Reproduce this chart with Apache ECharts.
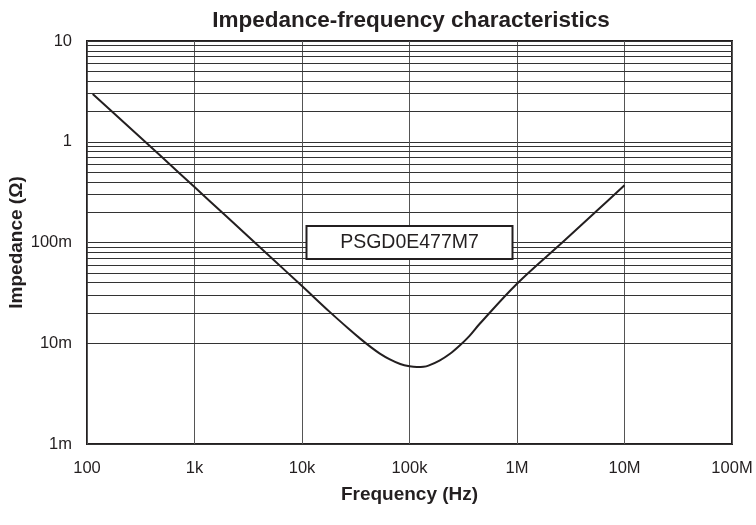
<!DOCTYPE html>
<html>
<head>
<meta charset="utf-8">
<script src="https://cdn.jsdelivr.net/npm/echarts@6/dist/echarts.min.js"></script>
<style>html,body{margin:0;padding:0;background:#fff;}#c{width:756px;height:525px;}</style>
</head>
<body>
<div id="c"></div>
<script>
// Data
var freqHz = [113, 200, 500, 1000, 2000, 5000, 10000, 18000, 27000, 35000, 44000, 53000, 65000, 82000, 100000, 117000, 135000, 150000, 190000, 240000, 295000, 360000, 450000, 1000000, 2700000, 5500000, 10000000];
var impedanceOhm = [2.98, 1.71, 0.70, 0.355, 0.180, 0.073, 0.037, 0.0206, 0.0140, 0.01105, 0.0091, 0.0079, 0.00696, 0.00622, 0.00590, 0.00580, 0.00584, 0.00600, 0.00673, 0.00791, 0.00954, 0.01175, 0.01560, 0.0390, 0.1023, 0.2055, 0.3695];
var xTickValues = [100, 1000, 10000, 100000, 1000000, 10000000, 100000000];
var xTickLabels = ['100', '1k', '10k', '100k', '1M', '10M', '100M'];
var yTickValues = [0.001, 0.01, 0.1, 1, 10];
var yTickLabels = ['1m', '10m', '100m', '1', '10'];
var yMinorGrid = [0.002,0.003,0.004,0.005,0.006,0.007,0.008,0.009,
                  0.02,0.03,0.04,0.05,0.06,0.07,0.08,0.09,
                  0.2,0.3,0.4,0.5,0.6,0.7,0.8,0.9,
                  2,3,4,5,6,7,8,9];
var partName = 'PSGD0E477M7';
var labelAt = [100000, 0.1];

function lookup(vals, labels, v) {
  for (var i = 0; i < vals.length; i++) {
    if (Math.abs(Math.log10(v) - Math.log10(vals[i])) < 1e-6) return labels[i];
  }
  return '';
}

var chart = echarts.init(document.getElementById('c'));
var font = 'Liberation Sans, Arial, Helvetica, sans-serif';
chart.setOption({
  animation: false,
  backgroundColor: '#fff',
  title: {
    text: 'Impedance-frequency characteristics',
    left: 406, top: 4, textAlign: 'center',
    textStyle: { fontFamily: font, fontSize: 22.5, fontWeight: 'bold', color: '#231f20' }
  },
  grid: { left: 87, right: 24, top: 41, bottom: 81, show: true, borderColor: '#231f20', borderWidth: 2,
          backgroundColor: 'transparent', containLabel: false, outerBoundsMode: 'none' },
  xAxis: {
    type: 'log', logBase: 10, min: 100, max: 100000000,
    name: 'Frequency (Hz)', nameLocation: 'middle', nameGap: 41,
    nameTextStyle: { fontFamily: font, fontSize: 19, fontWeight: 'bold', color: '#231f20' },
    axisLine: { show: false }, axisTick: { show: false },
    axisLabel: { margin: 16, fontFamily: font, fontSize: 16.5, color: '#231f20',
      formatter: function (v) { return lookup(xTickValues, xTickLabels, v); } },
    splitLine: { show: true, lineStyle: { color: '#555', width: 1 } }
  },
  yAxis: {
    type: 'log', logBase: 10, min: 0.001, max: 10,
    name: 'Impedance (\u03A9)', nameLocation: 'middle', nameGap: 61, nameRotate: 90,
    nameMoveOverlap: false,
    nameTextStyle: { fontFamily: font, fontSize: 19, fontWeight: 'bold', color: '#231f20' },
    axisLine: { show: false }, axisTick: { show: false },
    axisLabel: { margin: 15, fontFamily: font, fontSize: 16.5, color: '#231f20',
      formatter: function (v) { return lookup(yTickValues, yTickLabels, v); } },
    splitLine: { show: true, lineStyle: { color: '#333', width: 1 } }
  },
  series: [{
    type: 'line',
    data: freqHz.map(function (f, i) { return [f, impedanceOhm[i]]; }),
    showSymbol: false, symbol: 'none', smooth: 0.35,
    lineStyle: { color: '#231f20', width: 2 },
    z: 3,
    markLine: {
      silent: true, symbol: 'none', z: 1,
      label: { show: false },
      lineStyle: { color: '#333', width: 1, type: 'solid' },
      data: yMinorGrid.map(function (v) { return { yAxis: v }; })
    },
    markPoint: {
      silent: true, z: 10,
      symbol: 'rect', symbolSize: 1,
      itemStyle: { color: 'rgba(0,0,0,0)' },
      label: {
        show: true, position: 'inside',
        formatter: partName,
        fontFamily: font, fontSize: 19.5, color: '#231f20',
        backgroundColor: '#fff', borderColor: '#231f20', borderWidth: 2,
        width: 204, height: 31, lineHeight: 31, align: 'center', verticalAlign: 'middle', padding: 0
      },
      data: [{ coord: labelAt }]
    }
  }]
});
</script>
</body>
</html>
